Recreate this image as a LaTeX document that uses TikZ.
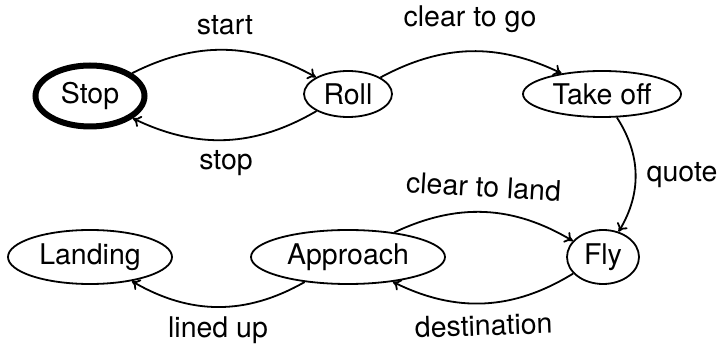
\documentclass[tikz,border=0pt]{standalone}
\usepackage{fontspec}
\setmainfont{TeX Gyre Heros}
\usetikzlibrary{shapes.geometric,arrows.meta}
\begin{document}
\begin{tikzpicture}[x=1pt,y=1pt,
  state/.style={ellipse,draw,line width=1.8pt,inner sep=0pt,font=\fontsize{28.5}{32}\selectfont},
  lbl/.style={anchor=base,inner sep=0pt,font=\fontsize{28.5}{32}\selectfont},
  edge/.style={line width=1.8pt,-{To[length=8pt,width=12pt]}}]
\useasboundingbox (0,0) rectangle (722,345);
\node[state,line width=6pt,minimum width=109pt,minimum height=61pt] (stop) at (90,249) {Stop};
\node[state,minimum width=88pt,minimum height=46pt] (roll) at (348,251) {Roll};
\node[state,minimum width=158pt,minimum height=46pt] (take) at (602,251) {Take off};
\node[state,minimum width=72pt,minimum height=54pt] (fly) at (603,88) {Fly};
\node[state,minimum width=194pt,minimum height=54pt] (appr) at (348,88) {Approach};
\node[state,minimum width=164pt,minimum height=54pt] (land) at (90,88) {Landing};
\draw[edge] (stop) to[bend left=28] (roll);
\draw[edge] (roll) to[bend left=28] (stop);
\draw[edge] (roll) to[bend left=27] (take);
\draw[edge] (take) to[bend left=32] (fly);
\draw[edge] (appr) to[bend left=28] (fly);
\draw[edge] (fly) to[bend left=29] (appr);
\draw[edge] (appr) to[bend left=30] (land);
\node[lbl] (lstart) at (225,310) {start};
\node[lbl] (lstop) at (226,175) {stop};
\node[lbl] (lgo) at (470,318) {clear to go};
\node[lbl] (lquote) at (682,163) {quote};
\node[lbl,rotate=-3.5] (lland) at (483,148) {clear to land};
\node[lbl,rotate=2] (ldest) at (484,9.5) {destination};
\node[lbl] (lined) at (218,7) {lined up};
\end{tikzpicture}
\end{document}
